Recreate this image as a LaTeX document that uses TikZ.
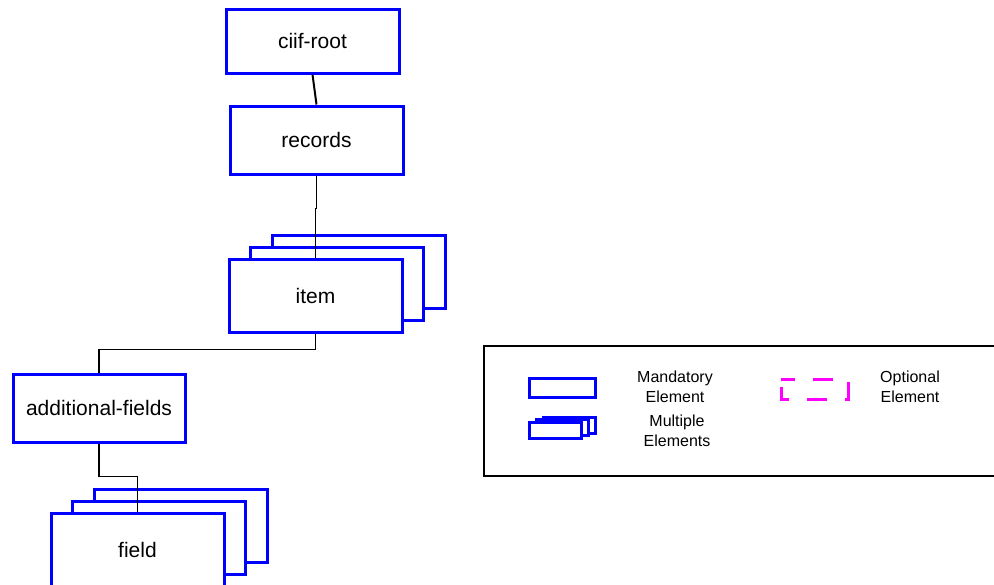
\documentclass[tikz,border=0pt]{standalone}
\usepackage{fontspec}
\setmainfont{Liberation Sans}
\definecolor{optpink}{RGB}{255,0,255}

\tikzset{
	elem/.style={draw=blue, line width=1.5pt, fill=white, minimum width=86.5pt, font=\fontsize{10.5}{12}\selectfont},
	link/.style={draw=black, line width=0.8pt},
	legtext/.style={align=center, font=\fontsize{8}{10}\selectfont}
}

\begin{document}
\begin{tikzpicture}[x=0.5pt,y=-0.5pt]
	\useasboundingbox (0,0) rectangle (994,584);
	
	%stacked copies behind the multiple elements
	\foreach \dx/\dy in {43/-24,21.5/-12}{
		\draw[blue, line width=1.5pt, fill=white] (229+\dx,259+\dy) rectangle (402+\dx,332+\dy);
		\draw[blue, line width=1.5pt, fill=white] (51+\dx,513+\dy) rectangle (224+\dx,586+\dy);}
	
	%elements
	\node[elem, minimum height=32pt] (root)    at (312.5,41)  {ciif-root};
	\node[elem, minimum height=34pt] (records) at (316.5,140) {records};
	\node[elem, minimum height=36.5pt] (item)  at (315.5,295.5) {item};
	\node[elem, minimum width=86pt, minimum height=34pt] (addl) at (99,408) {additional-fields};
	\node[elem, minimum height=36.5pt] (field) at (137.5,549.5) {field};
	
	%connectors
	\draw[link, line width=1pt] (root.south) -- (records.north);
	\draw[link] (records.south) -- ++(0,33) -| (item.north);
	\draw[link] (item.south) -- ++(0,16) -| (addl.north);
	\draw[link] (addl.south) -- ++(0,33) -| (field.north);
	
	%legend
	\draw[line width=0.8pt] (484,346) rectangle (1000,476);
	\draw[blue, line width=1.5pt] (529,378) rectangle (595,397);
	\foreach \dx/\dy in {14/-5,7/-2.5,0/0}{
		\draw[blue, line width=1.5pt, fill=white] (529+\dx,422+\dy) rectangle (581+\dx,438+\dy);}
	\draw[optpink, line width=1.5pt, dash pattern=on 10pt off 9pt, dash phase=-4pt] (781,379) rectangle (848,399);
	
	\node[legtext] (mand) at (675,387) {Mandatory\\Element};
	\node[legtext] (mult) at (677,431) {Multiple\\Elements};
	\node[legtext] (opt)  at (910,387) {Optional\\Element};
\end{tikzpicture}
\end{document}
